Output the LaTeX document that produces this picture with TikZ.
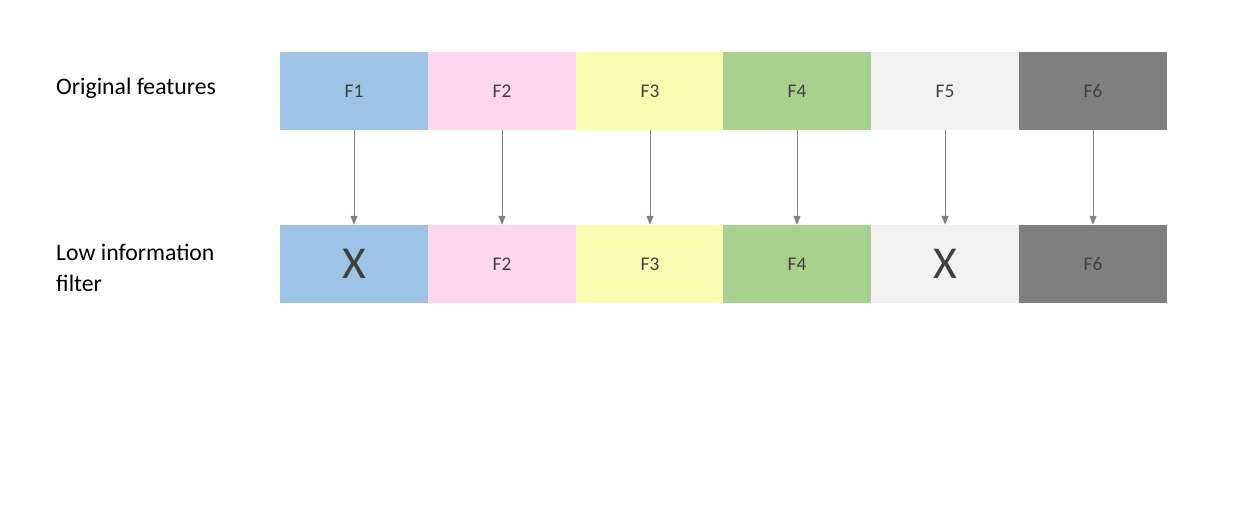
\documentclass[tikz,border=0pt]{standalone}
\usepackage{fontspec}
\setmainfont{Carlito}
\usetikzlibrary{positioning,arrows.meta}
\definecolor{cblue}{HTML}{9DC3E6}
\definecolor{cpink}{HTML}{FFD7EF}
\definecolor{cyel}{HTML}{FBFDB3}
\definecolor{cgreen}{HTML}{A9D18E}
\definecolor{clight}{HTML}{F2F2F2}
\definecolor{cdark}{HTML}{7F7F7F}
\definecolor{ctext}{HTML}{404040}
\begin{document}
\begin{tikzpicture}[x=0.02cm,y=-0.02cm,
  feat/.style={minimum width=2.96cm,minimum height=1.56cm,inner sep=0pt,text=ctext,font=\fontsize{11}{13}\selectfont},
  gone/.style={font=\fontsize{26}{30}\selectfont},
  lbl/.style={anchor=west,align=left,font=\fontsize{13.5}{18}\selectfont},
  link/.style={-{Triangle[length=5pt,width=4pt]},draw=gray,thin}]
  \useasboundingbox (0,0) rectangle (1233,519);
  \node[lbl] (top) at (50,88) {Original features};
  \node[lbl] (bot) at (50,268) {Low information\\filter};

  \node[feat,fill=cblue] (a1) at (354,91) {F1};
  \node[feat,fill=cpink] (a2) at (502,91) {F2};
  \node[feat,fill=cyel] (a3) at (650,91) {F3};
  \node[feat,fill=cgreen] (a4) at (797,91) {F4};
  \node[feat,fill=clight] (a5) at (945,91) {F5};
  \node[feat,fill=cdark] (a6) at (1093,91) {F6};

  \node[feat,gone,fill=cblue] (b1) at (354,264) {X};
  \node[feat,fill=cpink] (b2) at (502,264) {F2};
  \node[feat,fill=cyel] (b3) at (650,264) {F3};
  \node[feat,fill=cgreen] (b4) at (797,264) {F4};
  \node[feat,gone,fill=clight] (b5) at (945,264) {X};
  \node[feat,fill=cdark] (b6) at (1093,264) {F6};

  \draw[link] (a1) -- (b1);
  \draw[link] (a2) -- (b2);
  \draw[link] (a3) -- (b3);
  \draw[link] (a4) -- (b4);
  \draw[link] (a5) -- (b5);
  \draw[link] (a6) -- (b6);
\end{tikzpicture}
\end{document}
